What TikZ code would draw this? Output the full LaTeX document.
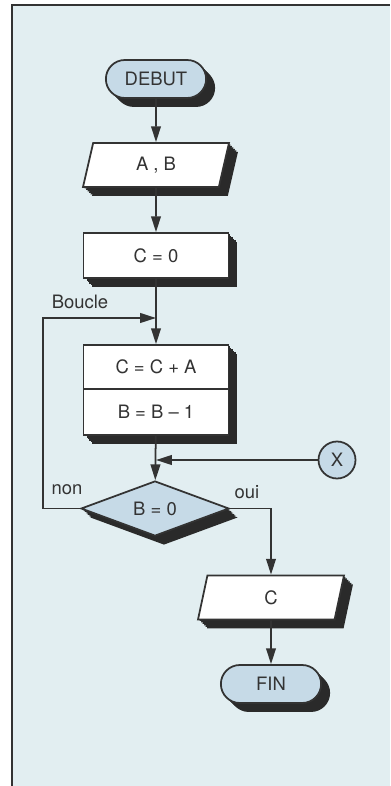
\documentclass[tikz,border=0pt]{standalone}
\usepackage{fontspec}
\setmainfont{TeX Gyre Heros}
\usetikzlibrary{arrows.meta,shapes.geometric,shapes.misc,shadows}

\definecolor{paper}{HTML}{E2EEF1}
\definecolor{paleblue}{HTML}{C6DAE7}
\definecolor{shadowgray}{HTML}{2A2A2A}
\definecolor{ink}{HTML}{333333}

\begin{document}
\begin{tikzpicture}[x=0.02cm, y=-0.02cm, font=\fontsize{10.5}{12.5}\selectfont,
    color=ink, line width=1pt, >={Triangle[length=9pt,width=5.5pt]},
    relief step/.style={general shadow={fill=shadowgray, shadow xshift=#1, shadow yshift=-#1}},
    relief/.style={relief step/.list={0.85pt,1.7pt,2.55pt,3.4pt,4.25pt,5.1pt}},
    terminal/.style={rounded rectangle, draw, fill=paleblue, relief, minimum width=2.24cm, minimum height=0.76cm},
    io/.style={trapezium, trapezium left angle=70, trapezium right angle=110, trapezium stretches body,
      draw, fill=white, relief, minimum width=2.92cm, minimum height=0.88cm},
    process/.style={rectangle, draw, fill=white, relief, minimum width=2.9cm, minimum height=0.9cm},
    decision/.style={diamond, aspect=2.7, draw, fill=paleblue, relief, inner sep=0pt,
      minimum width=2.96cm, minimum height=1.1cm},
    joint/.style={circle, draw, fill=paleblue, minimum size=0.74cm, inner sep=0pt}]
  \useasboundingbox (0,0) rectangle (390,786);
  \fill[white] (0,0) rectangle (390,786);
  \fill[paper] (12,5) rectangle (390,786);
  \draw[line width=1.2pt] (12,786) -- (12,5) -- (390,5);
  % main column
  \node[terminal] (debut) at (156,79) {DEBUT};
  \node[io] (ab) at (156,165) {A , B};
  \node[process] (init) at (156,255.5) {C = 0};
  \node[process, minimum height=0.88cm] (add) at (156,367) {C = C + A};
  \node[process, minimum height=0.92cm] (dec) at (156,412) {B = B -- 1};
  \node[decision] (test) at (155,508.5) {B = 0};
  \node[joint] (x) at (337,460) {X};
  \node[io] (out) at (271,597.5) {C};
  \node[terminal] (fin) at (271,684) {FIN};
  % junctions
  \coordinate (loopin) at (156,318);
  \coordinate (xin) at (156,460);
  \coordinate (back) at (43,508.5);
  % labels
  \node (boucle) at (80,302) {Boucle};
  \node (non) at (67,490) {non};
  \node (oui) at (247,492) {oui};
  % connectors
  \draw[->] (debut) -- (ab);
  \draw[->] (ab) -- (init);
  \draw[->] (init) -- (add);
  \draw[->] (dec) -- (test);
  \draw[->] (test.west) -- (back) |- (loopin);
  \draw[->] (x) -- (xin);
  \draw[->] (test.east) -| (out);
  \draw[->] (out) -- (fin);
\end{tikzpicture}
\end{document}
